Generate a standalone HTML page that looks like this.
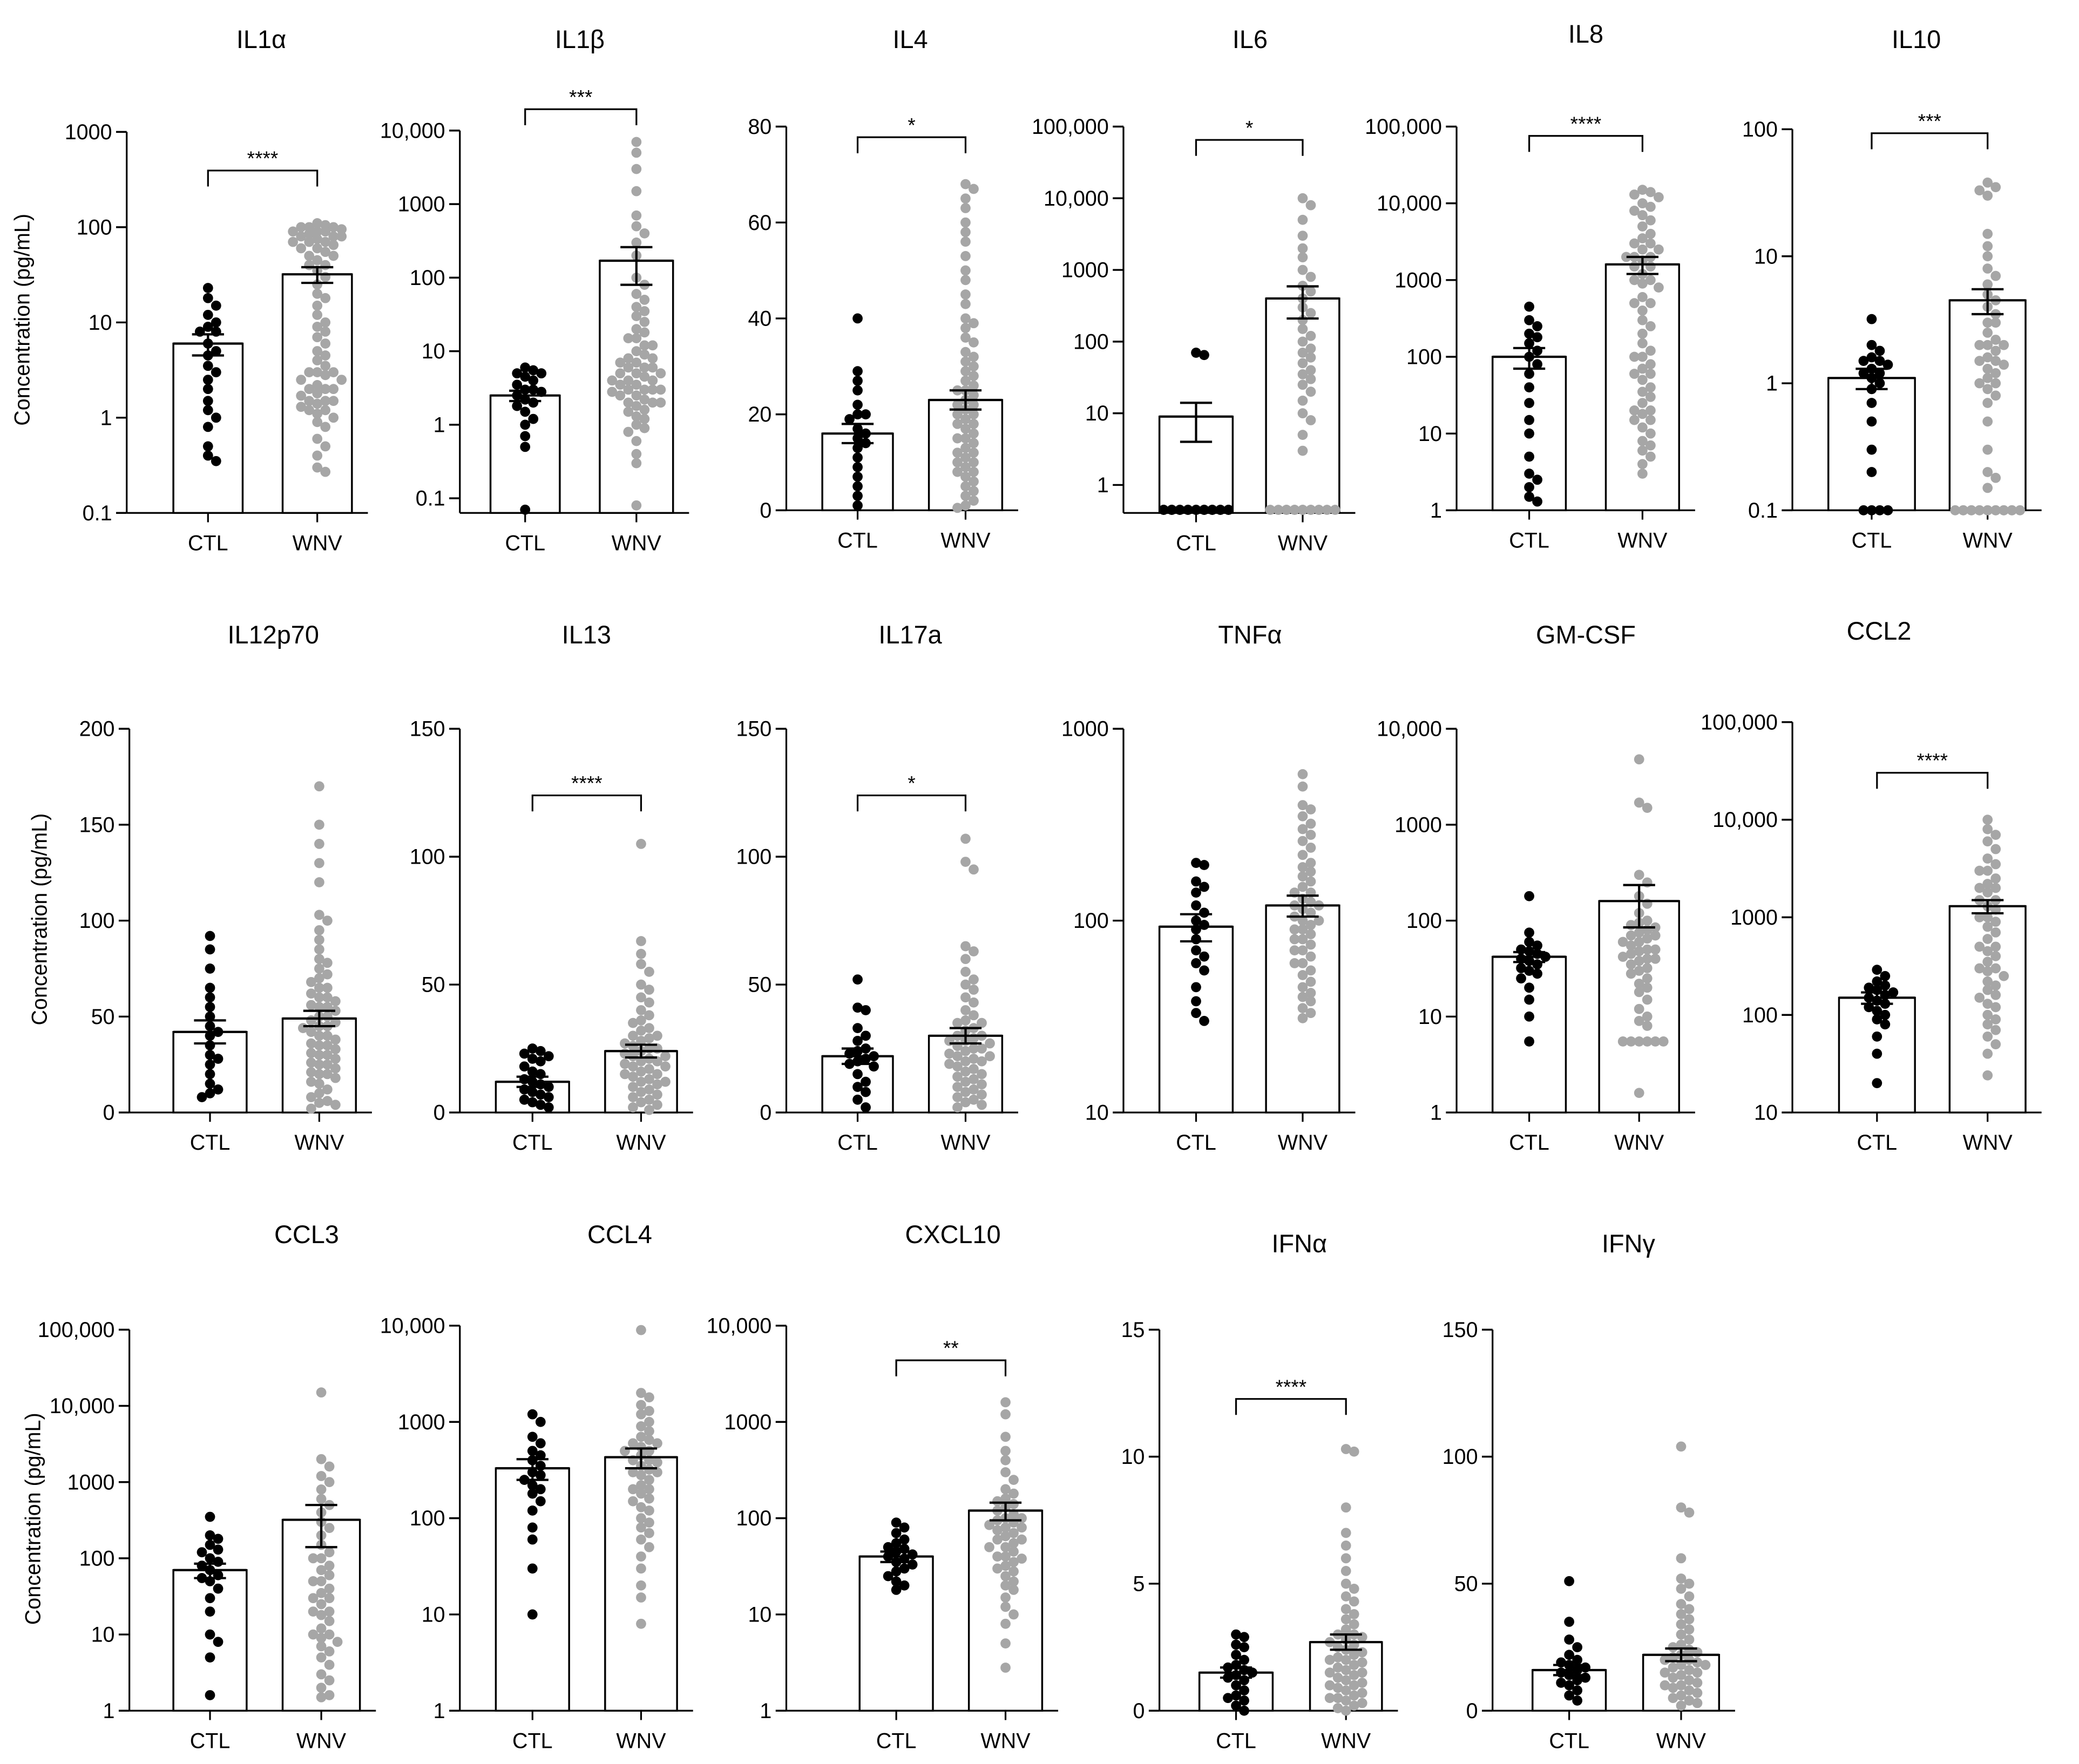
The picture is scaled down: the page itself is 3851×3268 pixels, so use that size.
<!DOCTYPE html>
<html><head><meta charset="utf-8"><style>
html,body{margin:0;padding:0;background:#fff;}
svg{display:block;}
text{font-family:"Liberation Sans",sans-serif;fill:#000;}
</style></head><body>
<svg id="fig" width="3851" height="3268" viewBox="0 0 1560 1324" xmlns="http://www.w3.org/2000/svg"></svg>
<script>
// ---- data (pg/mL) ----
const groups=["CTL","WNV"];
const il1a_ctl=[23,18,15,12,10,9,8,8,6,5,4.5,3.5,3,2.5,2,1.5,1.2,0.8,0.5,0.35,0.4,1.0];
const il1a_wnv=[110,105,100,100,95,90,90,85,80,80,75,70,70,65,60,60,55,50,50,45,40,40,35,30,25,20,18,15,12,10,9,8,7,6,5,4.5,4,3.5,3,3,2.8,2.5,2.5,2.2,2,2,1.8,1.7,1.5,1.5,1.4,1.3,1.2,1.2,1.1,1,0.9,0.8,0.6,0.5,0.4,0.3,0.27,100,90,80,70,1.5,2,3];
const il1a_mean=[6,32]; const il1a_sem=[1.5,6];
const il1b_ctl=[6,5.5,5,5,4.5,4,3.5,3,3,2.8,2.5,2.2,2,1.8,1.5,1.2,1,0.7,0.5,0.07];
const il1b_wnv=[7000,5000,3000,1500,700,500,400,300,200,100,80,60,50,40,35,30,25,20,18,15,12,10,9,8,8,7,7,6,6,5,5,5,4.5,4,4,3.5,3.5,3,3,3,2.8,2.5,2.5,2.2,2,2,1.8,1.6,1.5,1.3,1.2,1,0.9,0.8,0.6,0.4,0.3,0.08,12,15,6,4,3,2];
const il1b_mean=[2.5,170]; const il1b_sem=[0.4,90];
const il4_ctl=[40,29,27,25,22,20,20,19,17,16,15,14,13,11,9,7,5,3,1];
const il4_wnv=[68,67,65,63,60,58,56,53,50,48,45,43,40,39,38,36,35,33,32,31,30,29,28,27,26,25,24,23,22,21,20,19,18,17,16,15,14,13,12,11,10,9,8,7,6,5,4,3,2,1,0.5,25,20,15,10,22,18,12,8];
const il4_mean=[16,23]; const il4_sem=[2,2];
const il6_ctl=[70,65,0.45,0.45,0.45,0.45,0.45,0.45,0.45,0.45,0.45,0.45,0.45,0.45,0.45,0.45,0.45,0.45,0.45,0.45];
const il6_wnv=[10000,8000,5000,3000,2000,1500,1000,800,600,500,400,300,250,200,150,120,100,80,70,60,50,40,35,30,25,20,15,10,8,5,3,0.45,0.45,0.45,0.45,0.45,0.45,0.45,0.45,0.45,0.45,0.45,0.45,0.45,0.45];
const il6_mean=[9,400]; const il6_sem=[5,190];
const il8_ctl=[450,300,250,200,180,150,120,100,80,60,40,25,15,10,5,3,2.5,2,1.5,1.3];
const il8_wnv=[15000,14000,13000,12000,10000,9000,8000,7000,6000,5000,4000,3500,3000,2500,2000,2000,1800,1500,1500,1200,1000,900,800,600,500,400,300,250,200,150,120,100,80,70,60,50,40,35,30,25,20,18,15,12,10,8,7,6,5,4,3,2500,3000,2000,1000,500,100,60,20,15];
const il8_mean=[100,1600]; const il8_sem=[30,400];
const il10_ctl=[3.2,2,1.8,1.6,1.5,1.5,1.4,1.3,1.2,1.2,1.1,1,0.9,0.7,0.5,0.3,0.2,0.1,0.1,0.1,0.1];
const il10_wnv=[38,35,33,30,15,12,10,8,7,6,5,4.5,4,3.5,3,2.5,2.2,2,2,1.8,1.6,1.5,1.4,1.3,1.2,1.1,1,0.9,0.8,0.7,0.5,0.3,0.2,0.18,0.15,0.1,0.1,0.1,0.1,0.1,0.1,0.1,0.1,0.1,0.1,0.1,0.1,0.1,0.1,0.1,0.1,1.5,2,1,3];
const il10_mean=[1.1,4.5]; const il10_sem=[0.2,1];
const il12_ctl=[92,85,75,65,60,55,50,45,42,40,35,30,28,25,20,15,12,10,8];
const il12_wnv=[170,150,140,130,120,103,100,95,90,85,80,78,75,72,70,68,65,62,60,58,56,55,53,50,48,47,45,44,42,40,38,36,35,33,31,30,28,26,25,23,21,20,18,16,15,12,10,8,6,5,4,2,50,45,40,35,30,60,55,65,25,20];
const il12_mean=[42,49]; const il12_sem=[6,4];
const il13_ctl=[25,24,23,22,21,20,18,16,15,13,12,11,10,9,8,7,6,5,4,3,2];
const il13_wnv=[105,67,62,58,55,50,48,45,43,40,38,36,35,33,32,30,29,28,27,26,25,24,23,22,21,20,19,18,17,16,15,14,13,12,11,10,9,8,7,6,5,4,3,2,1,20,22,18,25,15,30,12];
const il13_mean=[12,24]; const il13_sem=[2,2.5];
const il17_ctl=[52,41,40,33,30,28,25,24,23,22,21,20,19,18,15,12,10,8,5,2];
const il17_wnv=[107,98,95,65,63,60,55,52,50,48,45,43,40,38,36,35,33,32,30,29,28,27,26,25,24,23,22,21,20,19,18,17,16,15,14,13,12,11,10,9,8,7,6,5,4,3,2,25,30,20,35,28,22];
const il17_mean=[22,30]; const il17_sem=[3,3];
const tnf_ctl=[200,195,160,150,140,120,110,100,95,90,80,70,65,60,55,45,38,33,30];
const tnf_wnv=[580,500,400,380,350,320,300,280,260,240,220,200,190,180,170,160,150,140,130,125,120,115,110,105,100,95,90,85,80,75,70,65,60,55,52,48,45,42,40,38,35,33,31,100,120,140,90,80,70,60];
const tnf_mean=[93,120]; const tnf_sem=[15,15];
const gm_ctl=[180,75,60,55,50,48,45,42,40,38,35,32,30,28,25,20,15,10,5.5];
const gm_wnv=[4800,1700,1500,300,250,180,150,120,100,95,90,85,80,75,70,65,60,55,50,48,45,42,40,38,35,32,30,28,25,22,20,18,15,12,10,9,8,5.5,5.5,5.5,5.5,5.5,5.5,1.6,60,70,50,40];
const gm_mean=[42,160]; const gm_sem=[5,75];
const ccl2_ctl=[290,250,220,200,190,180,170,160,150,140,130,120,110,100,90,80,60,40,20];
const ccl2_wnv=[10000,8000,7000,6000,5000,4000,3500,3000,2500,2200,2000,1800,1500,1300,1200,1000,900,800,700,600,500,450,400,350,300,280,250,220,200,180,160,150,130,120,100,90,80,70,60,50,40,24,1000,2000,500,300,3000,1500];
const ccl2_mean=[150,1300]; const ccl2_sem=[20,200];
const ccl3_ctl=[350,200,180,150,130,120,100,90,80,70,60,55,50,40,30,20,10,8,5,1.6];
const ccl3_wnv=[15000,2000,1600,1200,1000,800,600,500,400,300,250,200,150,120,100,80,70,60,50,40,35,30,25,20,18,15,12,10,9,8,7,6,5,4,3,2.5,2,1.6,1.5,100,50,30,20,10];
const ccl3_mean=[70,320]; const ccl3_sem=[15,180];
const ccl4_ctl=[1200,1000,700,600,500,450,400,350,300,280,250,220,200,180,150,120,80,60,30,10];
const ccl4_wnv=[9000,2000,1800,1500,1300,1200,1000,900,800,700,650,600,550,500,450,400,380,350,320,300,280,250,220,200,180,160,150,130,120,100,90,80,70,60,50,40,30,20,15,8,400,300,500,200,600];
const ccl4_mean=[330,430]; const ccl4_sem=[80,100];
const cxcl_ctl=[90,80,70,60,55,50,48,45,42,40,38,35,33,30,28,25,22,20,18];
const cxcl_wnv=[1600,1200,700,500,400,300,250,200,180,160,150,140,130,120,110,100,95,90,85,80,75,70,65,60,55,50,45,40,38,35,32,30,28,25,22,20,18,15,12,10,8,5,2.8,100,80,60,50,40];
const cxcl_mean=[40,120]; const cxcl_sem=[5,25];
const ifna_ctl=[3,2.9,2.6,2.5,2.2,2,1.8,1.7,1.6,1.5,1.4,1.3,1.2,1,0.8,0.6,0.5,0.4,0.2,0];
const ifna_wnv=[10.3,10.2,8,7,6.5,6,5.5,5,4.8,4.5,4.3,4,3.8,3.6,3.4,3.2,3,2.9,2.8,2.7,2.6,2.5,2.4,2.3,2.2,2.1,2,1.9,1.8,1.7,1.6,1.5,1.4,1.3,1.2,1.1,1,0.9,0.8,0.7,0.6,0.5,0.4,0.3,0.2,0.1,0,2,3,1.5,1,0.5];
const ifna_mean=[1.5,2.7]; const ifna_sem=[0.2,0.3];
const ifng_ctl=[51,35,28,25,22,20,19,18,17,16,15,14,13,12,11,10,8,6,4];
const ifng_wnv=[104,80,78,60,52,50,48,45,42,40,38,36,34,32,30,28,26,24,23,22,21,20,19,18,17,16,15,14,13,12,11,10,9,8,7,6,5,4,3,2,20,15,10,25,18];
const ifng_mean=[16,22]; const ifng_sem=[2,2.5];

// ---- layout ----
const panels=[
 {id:"il1a",title:"IL1α",tx:196,ty:36,ax:95,log:true,min:0.1,max:1000,yMax:99,yMin:385,bot:385,c:[130,182],w:[212,264],sig:"****",sy:128,ylab:[22,240],d:[il1a_ctl,il1a_wnv,il1a_mean,il1a_sem]},
 {id:"il1b",title:"IL1β",tx:435,ty:36,ax:345,log:true,min:0.1,max:10000,yMax:98,yMin:374,bot:385,c:[368,420],w:[450,505],sig:"***",sy:82,d:[il1b_ctl,il1b_wnv,il1b_mean,il1b_sem]},
 {id:"il4",title:"IL4",tx:683,ty:36,ax:590,log:false,min:0,max:80,step:20,yMax:95,yMin:383,bot:383,c:[617,670],w:[697,752],sig:"*",sy:103,d:[il4_ctl,il4_wnv,il4_mean,il4_sem]},
 {id:"il6",title:"IL6",tx:938,ty:36,ax:843,log:true,min:1,max:100000,yMax:95,yMin:364,bot:385,c:[870,925],w:[950,1005],sig:"*",sy:105,d:[il6_ctl,il6_wnv,il6_mean,il6_sem]},
 {id:"il8",title:"IL8",tx:1190,ty:32,ax:1093,log:true,min:1,max:100000,yMax:95,yMin:383,bot:383,c:[1120,1175],w:[1205,1260],sig:"****",sy:102,d:[il8_ctl,il8_wnv,il8_mean,il8_sem]},
 {id:"il10",title:"IL10",tx:1438,ty:36,ax:1345,log:true,min:0.1,max:100,yMax:97,yMin:383,bot:383,c:[1372,1437],w:[1463,1520],sig:"***",sy:100,d:[il10_ctl,il10_wnv,il10_mean,il10_sem]},
 {id:"il12p70",title:"IL12p70",tx:205,ty:483,ax:97,log:false,min:0,max:200,step:50,yMax:547,yMin:835,bot:835,c:[130,185],w:[212,267],ylab:[35,690],d:[il12_ctl,il12_wnv,il12_mean,il12_sem]},
 {id:"il13",title:"IL13",tx:440,ty:483,ax:345,log:false,min:0,max:150,step:50,yMax:547,yMin:835,bot:835,c:[372,427],w:[454,508],sig:"****",sy:597,d:[il13_ctl,il13_wnv,il13_mean,il13_sem]},
 {id:"il17a",title:"IL17a",tx:683,ty:483,ax:590,log:false,min:0,max:150,step:50,yMax:547,yMin:835,bot:835,c:[617,670],w:[697,752],sig:"*",sy:597,d:[il17_ctl,il17_wnv,il17_mean,il17_sem]},
 {id:"tnfa",title:"TNFα",tx:938,ty:483,ax:843,log:true,min:10,max:1000,yMax:547,yMin:835,bot:835,c:[870,925],w:[950,1005],d:[tnf_ctl,tnf_wnv,tnf_mean,tnf_sem]},
 {id:"gm-csf",title:"GM-CSF",tx:1190,ty:483,ax:1093,log:true,min:1,max:10000,yMax:547,yMin:835,bot:835,c:[1120,1175],w:[1200,1260],d:[gm_ctl,gm_wnv,gm_mean,gm_sem]},
 {id:"ccl2",title:"CCL2",tx:1410,ty:480,ax:1345,log:true,min:10,max:100000,yMax:542,yMin:835,bot:835,c:[1380,1437],w:[1463,1520],sig:"****",sy:580,d:[ccl2_ctl,ccl2_wnv,ccl2_mean,ccl2_sem]},
 {id:"ccl3",title:"CCL3",tx:230,ty:933,ax:97,log:true,min:1,max:100000,yMax:998,yMin:1284,bot:1284,c:[130,185],w:[212,270],ylab:[30,1140],d:[ccl3_ctl,ccl3_wnv,ccl3_mean,ccl3_sem]},
 {id:"ccl4",title:"CCL4",tx:465,ty:933,ax:345,log:true,min:1,max:10000,yMax:995,yMin:1284,bot:1284,c:[372,427],w:[454,508],d:[ccl4_ctl,ccl4_wnv,ccl4_mean,ccl4_sem]},
 {id:"cxcl10",title:"CXCL10",tx:715,ty:933,ax:590,log:true,min:1,max:10000,yMax:995,yMin:1284,bot:1284,c:[645,700],w:[727,782],sig:"**",sy:1021,d:[cxcl_ctl,cxcl_wnv,cxcl_mean,cxcl_sem]},
 {id:"ifna",title:"IFNα",tx:975,ty:940,ax:870,log:false,min:0,max:15,step:5,yMax:998,yMin:1284,bot:1284,c:[900,955],w:[983,1037],sig:"****",sy:1050,d:[ifna_ctl,ifna_wnv,ifna_mean,ifna_sem]},
 {id:"ifng",title:"IFNγ",tx:1222,ty:940,ax:1120,log:false,min:0,max:150,step:50,yMax:998,yMin:1284,bot:1284,c:[1150,1205],w:[1233,1290],d:[ifng_ctl,ifng_wnv,ifng_mean,ifng_sem]}
];
const NS="http://www.w3.org/2000/svg";
const svg=document.getElementById("fig");
function mk(tag,attrs,parent){const e=document.createElementNS(NS,tag);for(const k in attrs)e.setAttribute(k,attrs[k]);parent.appendChild(e);return e;}
function fmt(v){if(v>=10000)return v.toLocaleString("en-US");return String(v);}
panels.forEach(p=>{
  const g=mk("g",{},svg);
  
  
  const yS=v=>{
    if(p.log){const lv=Math.log10(Math.max(v,1e-9));return p.yMin+(lv-Math.log10(p.min))/(Math.log10(p.max)-Math.log10(p.min))*(p.yMax-p.yMin);}
    return p.yMin+(v-p.min)/(p.max-p.min)*(p.yMax-p.yMin);
  };
  const ycl=v=>Math.min(p.bot,yS(v));
  const t=mk("text",{x:p.tx,y:p.ty,"font-size":19,"text-anchor":"middle"},g);t.textContent=p.title;
  
  if(p.ylab){const yl=mk("text",{x:p.ylab[0],y:p.ylab[1],"font-size":16,"text-anchor":"middle",transform:`rotate(-90 ${p.ylab[0]} ${p.ylab[1]})`},g);yl.textContent="Concentration (pg/mL)";
    }
  const ticks=[];
  if(p.log){for(let v=p.min;v<=p.max*1.0001;v*=10)ticks.push(+v.toPrecision(3));}
  else{for(let v=p.min;v<=p.max;v+=p.step)ticks.push(v);}
  const ya=mk("line",{x1:p.ax,x2:p.ax,y1:p.yMax,y2:p.bot,stroke:"#000","stroke-width":1.3},g);
  
  ticks.forEach(v=>{const y=yS(v);
    mk("line",{x1:p.ax-8,x2:p.ax,y1:y,y2:y,stroke:"#000","stroke-width":1.4},g);
    const tl=mk("text",{x:p.ax-11,y:y+5.5,"font-size":16,"text-anchor":"end"},g);tl.textContent=fmt(v);
    
  });
  const xa=mk("line",{x1:p.ax,x2:p.w[1]+12,y1:p.bot,y2:p.bot,stroke:"#000","stroke-width":1.3},g);
  
  [p.c,p.w].forEach((xr,i)=>{const cx=(xr[0]+xr[1])/2;
    mk("line",{x1:cx,x2:cx,y1:p.bot,y2:p.bot+7,stroke:"#000","stroke-width":1.3},g);
    const xl=mk("text",{x:cx,y:p.bot+28,"font-size":16,"text-anchor":"middle"},g);xl.textContent=groups[i];
    });
  const [ctl,wnv,mean,sem]=p.d;
  [p.c,p.w].forEach((xr,i)=>{
    const vals=i?wnv:ctl;const col=i?"#a6a6a6":"#000";
    const yt=yS(mean[i]);
    const bar=mk("rect",{x:xr[0],y:yt,width:xr[1]-xr[0],height:p.bot-yt,fill:"#fff",stroke:"#000","stroke-width":1.4},g);
    
    const r=3.8,half=(xr[1]-xr[0])/2-3,cx=(xr[0]+xr[1])/2;
    const sorted=vals.slice().sort((a,b)=>b-a);const placed=[];
    const minD=r*1.6;
    sorted.forEach(v=>{const y=ycl(v);let best=null,bestO=1e9;
      for(let k=0;k<=40;k++){const off=(k%2?1:-1)*Math.ceil(k/2)*r*1.6;if(Math.abs(off)>half)continue;
        let o=0;placed.forEach(q=>{const d=Math.hypot(q[0]-(cx+off),q[1]-y);if(d<minD)o+=minD-d;});
        if(o<bestO-0.01){bestO=o;best=cx+off;}if(o===0)break;}
      placed.push([best,y]);
      const dot=mk("circle",{cx:best,cy:y,r:r,fill:col},g);
      
      
    });
    const y1=yS(mean[i]+sem[i]),y2=ycl(Math.max(mean[i]-sem[i],1e-9));
    const eg=mk("g",{stroke:"#000","stroke-width":1.7},g);
    
    mk("line",{x1:cx,x2:cx,y1:y1,y2:y2},eg);
    mk("line",{x1:cx-12,x2:cx+12,y1:y1,y2:y1},eg);
    mk("line",{x1:cx-12,x2:cx+12,y1:y2,y2:y2},eg);
    mk("line",{x1:xr[0],x2:xr[1],y1:yt,y2:yt},eg);
  });
  if(p.sig){const a=(p.c[0]+p.c[1])/2,b=(p.w[0]+p.w[1])/2;
    const br=mk("path",{d:`M${a} ${p.sy+12}V${p.sy}H${b}V${p.sy+12}`,fill:"none",stroke:"#000","stroke-width":1.3},g);
    
    const st=mk("text",{x:(a+b)/2,y:p.sy-4,"font-size":15,"text-anchor":"middle"},g);st.textContent=p.sig;
    }
});
</script>
</body></html>
